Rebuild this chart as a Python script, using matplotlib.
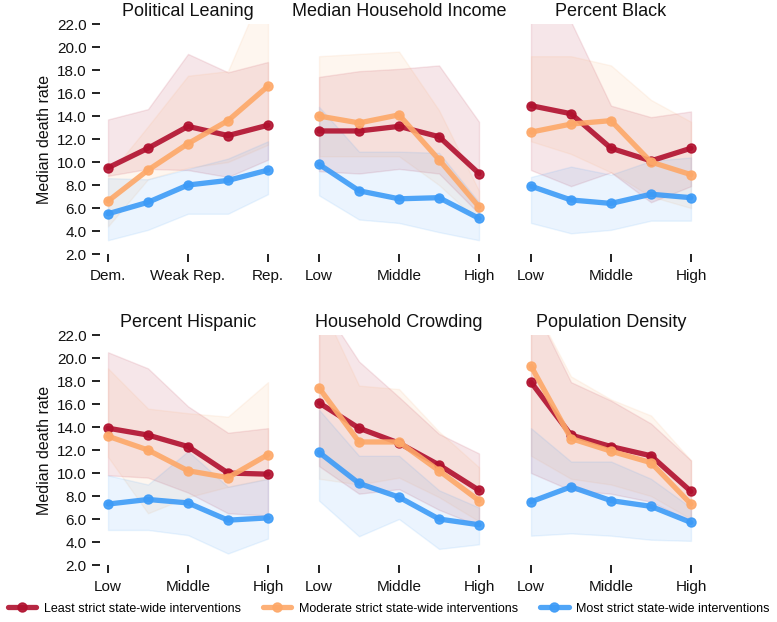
import numpy as np
import matplotlib
matplotlib.use("Agg")
import matplotlib.pyplot as plt

plt.rcParams['font.family'] = ['Liberation Sans', 'DejaVu Sans']

# panel titles and x tick labels
titles = ["Political Leaning", "Median Household Income", "Percent Black",
          "Percent Hispanic", "Household Crowding", "Population Density"]
xlabels_pol = ["Dem.", "Weak Rep.", "Rep."]
xlabels_lmh = ["Low", "Middle", "High"]
groups = [0, 1, 2, 3, 4]

legend_names = ["Least strict state-wide interventions",
                "Moderate strict state-wide interventions",
                "Most strict state-wide interventions"]

# median lines (least, moderate, most) per panel
least = [[9.5, 11.2, 13.1, 12.3, 13.2],
         [12.7, 12.7, 13.1, 12.2, 9.0],
         [14.9, 14.2, 11.2, 10.1, 11.2],
         [13.9, 13.3, 12.3, 10.0, 9.9],
         [16.1, 13.9, 12.6, 10.7, 8.5],
         [17.9, 13.3, 12.3, 11.5, 8.4]]
moderate = [[6.6, 9.3, 11.6, 13.6, 16.6],
            [14.0, 13.4, 14.1, 10.2, 6.1],
            [12.6, 13.3, 13.6, 10.0, 8.9],
            [13.2, 12.0, 10.2, 9.6, 11.6],
            [17.4, 12.7, 12.7, 10.2, 7.6],
            [19.3, 13.0, 11.9, 10.9, 7.3]]
most = [[5.5, 6.5, 8.0, 8.4, 9.3],
        [9.8, 7.5, 6.8, 6.9, 5.1],
        [7.9, 6.7, 6.4, 7.2, 6.9],
        [7.3, 7.7, 7.4, 5.9, 6.1],
        [11.8, 9.1, 7.9, 6.0, 5.5],
        [7.5, 8.8, 7.6, 7.1, 5.7]]

# shaded ranges
least_lo = [[8.8, 9.4, 9.3, 8.7, 10.2],
            [9.2, 9.0, 9.4, 9.0, 5.5],
            [9.3, 7.9, 9.1, 6.5, 7.9],
            [9.8, 9.6, 8.3, 6.5, 6.3],
            [10.6, 8.2, 8.6, 6.8, 5.4],
            [10.0, 8.5, 8.2, 7.5, 5.8]]
least_hi = [[13.7, 14.6, 19.4, 17.8, 18.7],
            [17.4, 17.9, 18.1, 18.4, 13.5],
            [25.0, 22.2, 14.9, 13.9, 14.4],
            [20.5, 19.1, 15.8, 13.5, 13.9],
            [25.0, 19.7, 16.6, 13.4, 11.7],
            [25.0, 17.9, 16.3, 14.3, 11.1]]
moderate_lo = [[4.4, 8.5, 9.5, 10.0, 11.5],
               [10.5, 10.5, 10.5, 8.0, 4.8],
               [11.8, 10.7, 9.1, 7.0, 6.0],
               [11.4, 6.5, 7.9, 8.8, 9.5],
               [9.5, 9.0, 9.6, 7.9, 5.8],
               [11.5, 9.5, 9.0, 8.0, 6.0]]
moderate_hi = [[8.8, 13.1, 17.5, 17.9, 26.0],
               [19.2, 19.4, 19.6, 14.5, 7.5],
               [19.2, 19.2, 18.4, 15.4, 13.5],
               [19.1, 15.6, 15.2, 14.9, 17.9],
               [25.0, 17.6, 17.3, 13.6, 10.5],
               [25.0, 18.4, 16.4, 15.0, 11.1]]
most_lo = [[3.2, 4.1, 5.5, 5.5, 7.2],
           [7.1, 5.0, 4.7, 3.9, 3.2],
           [4.7, 3.8, 4.1, 4.9, 4.9],
           [5.05, 5.05, 4.6, 3.0, 4.3],
           [7.6, 4.5, 6.0, 3.4, 3.8],
           [4.55, 4.75, 4.55, 4.2, 4.1]]
most_hi = [[8.6, 8.5, 9.4, 10.3, 11.8],
           [14.8, 10.9, 10.9, 10.8, 6.5],
           [8.7, 9.6, 8.9, 10.1, 10.4],
           [9.8, 9.0, 11.9, 8.8, 9.5],
           [15.5, 11.5, 11.5, 8.5, 7.0],
           [13.9, 11.0, 11.0, 9.5, 7.0]]

colors = ["#b0102e", "#fda868", "#3d9bf7"]
yticks = np.arange(2, 23, 2)

fig = plt.figure(figsize=(7.77, 6.22), dpi=100)
lefts = [0.1287, 0.4003, 0.6731]
bottoms = [0.5916, 0.0916]
w, h = 0.2265, 0.3698

handles = []
for i in range(6):
    r, c = divmod(i, 3)
    ax = fig.add_axes([lefts[c], bottoms[r], w, h])
    series = [(least[i], least_lo[i], least_hi[i]),
              (moderate[i], moderate_lo[i], moderate_hi[i]),
              (most[i], most_lo[i], most_hi[i])]
    for (med, lo, hi), col in zip(series, colors):
        ax.fill_between(groups, lo, hi, color=col, alpha=0.1, linewidth=1,
                        edgecolor=col)
    for (med, lo, hi), col in zip(series, colors):
        ln, = ax.plot(groups, med, color=col, lw=3.8, marker='o', ms=6.5,
                      alpha=0.9, solid_capstyle='round')
        if i == 0:
            handles.append(ln)
    ax.set_xlim(-0.2, 4.2)
    ax.set_ylim(2, 22)
    ax.set_xticks([0, 2, 4])
    ax.set_xticklabels(xlabels_pol if i == 0 else xlabels_lmh)
    ax.set_yticks(yticks)
    if c == 0:
        ax.set_yticklabels([f"{v:.1f}" for v in yticks])
        ax.set_ylabel("Median death rate", fontsize=11.5, labelpad=4,
                      color='#111111')
    else:
        ax.tick_params(axis='y', left=False, labelleft=False)
    ax.tick_params(axis='both', labelsize=11, length=5.5, width=1.3,
                   color='#111111', labelcolor='#111111')
    ax.tick_params(axis='y', pad=4)
    ax.tick_params(axis='x', pad=5)
    for s in ax.spines.values():
        s.set_visible(False)
    ax.set_title(titles[i], fontsize=13, pad=6, color='#111111')

fig.legend(handles, legend_names, loc='lower left',
           bbox_to_anchor=(0.0, 0.0, 1.0, 0.04), mode='expand', ncol=3,
           frameon=False, fontsize=9, handlelength=2.3, handletextpad=0.6,
           borderaxespad=0.2)

fig.savefig("out.png", dpi=100)
